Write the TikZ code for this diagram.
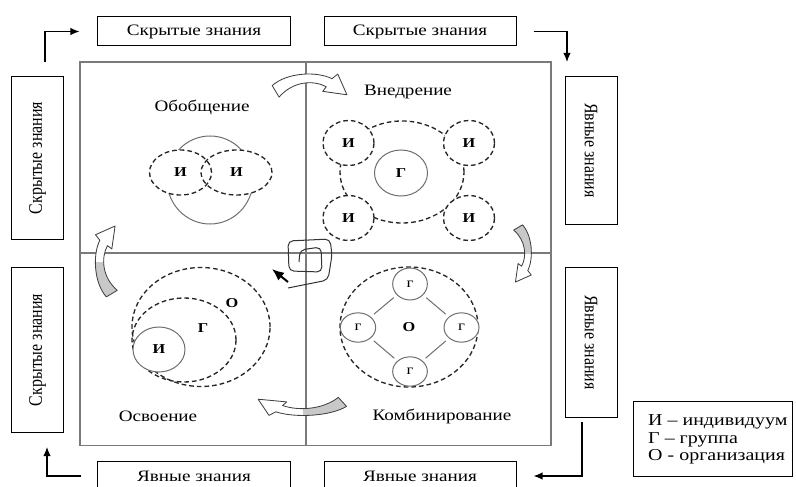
\documentclass[tikz,border=0pt]{standalone}
\usepackage{fontspec}
\setmainfont{Liberation Serif}
\usepackage{graphicx}
\usetikzlibrary{arrows.meta,shapes.geometric}

% horizontally widened text, and the same for text turned on its side
\newcommand\hs[1]{\scalebox{1.2}[1]{#1}}
\newcommand\upword[1]{\rotatebox{90}{\scalebox{1}[1.2]{#1}}}
\newcommand\downword[1]{\rotatebox{-90}{\scalebox{1}[1.2]{#1}}}

\definecolor{framegray}{HTML}{7A7A7A}
\definecolor{ringgray}{HTML}{6E6E6E}
\definecolor{ribbongray}{HTML}{C8C8C8}

\begin{document}
\begin{tikzpicture}[x=0.03cm, y=-0.03cm,
  sidebox/.style={draw=black, line width=0.03cm, inner sep=0pt,
                  font=\fontsize{13.6}{16}\selectfont},
  frame/.style={draw=framegray, line width=0.05cm},
  qlabel/.style={font=\fontsize{13.6}{16}\selectfont},
  legtext/.style={font=\fontsize{14.2}{17}\selectfont, inner sep=0pt},
  letter/.style={font=\fontsize{11.6}{13}\selectfont\bfseries},
  smallletter/.style={font=\fontsize{12}{13}\selectfont},
  dashring/.style={ellipse, draw=black!85, line width=0.04cm,
                   dash pattern=on 0.14cm off 0.09cm, inner sep=0pt},
  solidring/.style={ellipse, draw=ringgray, line width=0.03cm, inner sep=0pt},
  link/.style={draw=ringgray, line width=0.03cm, shorten <=0.12cm, shorten >=0.12cm},
  flow/.style={draw=black, line width=0.035cm, -{Latex[length=0.27cm,width=0.22cm]}},
  ribbonline/.style={draw=black!75, line width=0.025cm, line join=round},
  pics/ribbon/.style={code={
    \fill[white] (-32,4) .. controls (-20,-7) and (6,-9) .. (20,-2) -- (25,-6) -- (33,12)
       -- (12,9) -- (15,5) .. controls (4,-1) and (-14,0) .. (-26,14) -- cycle;
    \begin{scope}
      \clip (-40,-20) rectangle (0,20);
      \fill[#1] (-32,4) .. controls (-20,-7) and (6,-9) .. (20,-2) -- (25,-6) -- (33,12)
         -- (12,9) -- (15,5) .. controls (4,-1) and (-14,0) .. (-26,14) -- cycle;
    \end{scope}
    \draw[ribbonline] (-32,4) .. controls (-20,-7) and (6,-9) .. (20,-2) -- (25,-6) -- (33,12)
       -- (12,9) -- (15,5) .. controls (4,-1) and (-14,0) .. (-26,14) -- cycle;
  }}
]
\clip (0,0) rectangle (796,487);

% knowledge boxes around the matrix
\node[sidebox, minimum width=5.76cm, minimum height=0.87cm] (top1) at (194,31.5) {\hs{Скрытые знания}};
\node[sidebox, minimum width=5.76cm, minimum height=0.87cm] (top2) at (420,31.5) {\hs{Скрытые знания}};
\node[sidebox, minimum width=5.76cm, minimum height=0.9cm] (bot1) at (194,476) {\hs{Явные знания}};
\node[sidebox, minimum width=5.76cm, minimum height=0.9cm] (bot2) at (420,476) {\hs{Явные знания}};
\node[sidebox, minimum width=1.53cm, minimum height=4.86cm] (left1) at (37.5,158) {\upword{Скрытые знания}};
\node[sidebox, minimum width=1.53cm, minimum height=4.92cm] (left2) at (37.5,350) {\upword{Скрытые знания}};
\node[sidebox, minimum width=1.56cm, minimum height=4.41cm] (right1) at (591,150.5) {\downword{Явные знания}};
\node[sidebox, minimum width=1.56cm, minimum height=4.47cm] (right2) at (591,342.5) {\downword{Явные знания}};

% corner arrows
\coordinate (tlfoot) at (45,62);
\coordinate (trend) at (567,62);
\coordinate (brfoot) at (582,422);
\coordinate (blend) at (47,447);
\draw[flow, shorten >=0.54cm] (tlfoot) |- (top1.west);
\draw[flow, shorten <=0.51cm] (top2.east) -| (trend);
\draw[flow, shorten >=0.51cm] (brfoot) |- (bot2.east);
\draw[flow, shorten <=0.48cm] (bot1.west) -| (blend);

% the matrix
\draw[frame] (80,62) rectangle (551,445.5);
\draw[frame] (306,62) -- (306,445.5);
\draw[frame] (80,253) -- (551,253);

% turning arrows between the quadrants
\pic[scale=1.15] at (309,81) {ribbon=white};
\pic[rotate=-90, scale=0.88] at (526,253) {ribbon=ribbongray};
\pic[rotate=180, xscale=1.36, yscale=0.9] at (303,410) {ribbon=ribbongray};
\pic[rotate=90, scale=1.09] at (102,262) {ribbon=ribbongray};

% quadrant titles
\node[qlabel] (tsoc) at (202,107) {\hs{Обобщение}};
\node[qlabel] (text) at (408,92) {\hs{Внедрение}};
\node[qlabel] (tint) at (158,416) {\hs{Освоение}};
\node[qlabel] (tcomb) at (442,416) {\hs{Комбинирование}};

% socialisation: two individuals sharing one field
\node[solidring, minimum width=2.58cm, minimum height=2.64cm] (share) at (210,180) {};
\fill[white] (180.5,172.5) ellipse [x radius=31, y radius=22.5];
\fill[white] (236.5,172.5) ellipse [x radius=35.5, y radius=22.5];
\node[dashring, minimum width=1.86cm, minimum height=1.35cm, letter] (sa) at (180.5,172.5) {\hs{И}};
\node[dashring, minimum width=2.13cm, minimum height=1.35cm, letter] (sb) at (236.5,172.5) {\hs{И}};

% externalisation: individuals around a group
\node[dashring, minimum width=3.72cm, minimum height=3.06cm] (egroup) at (402,172) {};
\node[dashring, fill=white, minimum width=1.53cm, minimum height=1.35cm, letter] (ea) at (348.5,143) {\hs{И}};
\node[dashring, fill=white, minimum width=1.53cm, minimum height=1.35cm, letter] (eb) at (469,143) {\hs{И}};
\node[dashring, fill=white, minimum width=1.53cm, minimum height=1.35cm, letter] (ec) at (348.5,218) {\hs{И}};
\node[dashring, fill=white, minimum width=1.53cm, minimum height=1.35cm, letter] (ed) at (469,218) {\hs{И}};
\node[solidring, minimum width=1.59cm, minimum height=1.38cm, letter] (eg) at (401,173) {\hs{Г}};

% internalisation: individual inside group inside organisation
\node[dashring, minimum width=4.14cm, minimum height=3.57cm] (iorg) at (201,327) {};
\node[dashring, minimum width=3.12cm, minimum height=2.52cm] (igrp) at (184,340) {};
\node[solidring, fill=white, minimum width=1.56cm, minimum height=1.35cm, letter] (iind) at (159,349.5) {\hs{И}};
\node[letter] (iorgl) at (232,303) {\hs{О}};
\node[letter] (igrpl) at (203,328) {\hs{Г}};

% combination: groups linked within the organisation
\node[dashring, minimum width=4.14cm, minimum height=3.6cm, letter] (corg) at (409,327) {\hs{О}};
\node[solidring, fill=white, minimum width=1.04cm, minimum height=0.96cm, smallletter] (gt) at (410,284) {\hs{г}};
\node[solidring, fill=white, minimum width=1.06cm, minimum height=0.88cm, smallletter] (gl) at (358,327.5) {\hs{г}};
\node[solidring, fill=white, minimum width=1.05cm, minimum height=0.88cm, smallletter] (gr) at (461.5,327.5) {\hs{г}};
\node[solidring, fill=white, minimum width=1.04cm, minimum height=0.88cm, smallletter] (gb) at (410,371.5) {\hs{г}};
\draw[link] (gl) -- (gt);
\draw[link] (gt) -- (gr);
\draw[link] (gl) -- (gb);
\draw[link] (gb) -- (gr);

% spiral at the centre
\draw[black!80, line width=0.03cm, rounded corners=0.15cm]
  (299,262) -- (300,250) -- (321,247) -- (322,272) -- (289,271) -- (288,241)
  -- (330,239) -- (332,255) -- (328,280) -- (288,288);
\coordinate (sptail) at (288,282);
\coordinate (sphead) at (272,269);
\draw[line width=0.06cm, -{Latex[length=0.36cm,width=0.3cm]}] (sptail) -- (sphead);

% legend
\node[sidebox, minimum width=4.77cm, minimum height=2.25cm] (legend) at (712.5,438.5) {};
\node[legtext, anchor=west] (lg1) at (648,422) {\hs{И – индивидуум}};
\node[legtext, anchor=west] (lg2) at (648,439.5) {\hs{Г – группа}};
\node[legtext, anchor=west] (lg3) at (648,457) {\hs{О - организация}};
\end{tikzpicture}
\end{document}
